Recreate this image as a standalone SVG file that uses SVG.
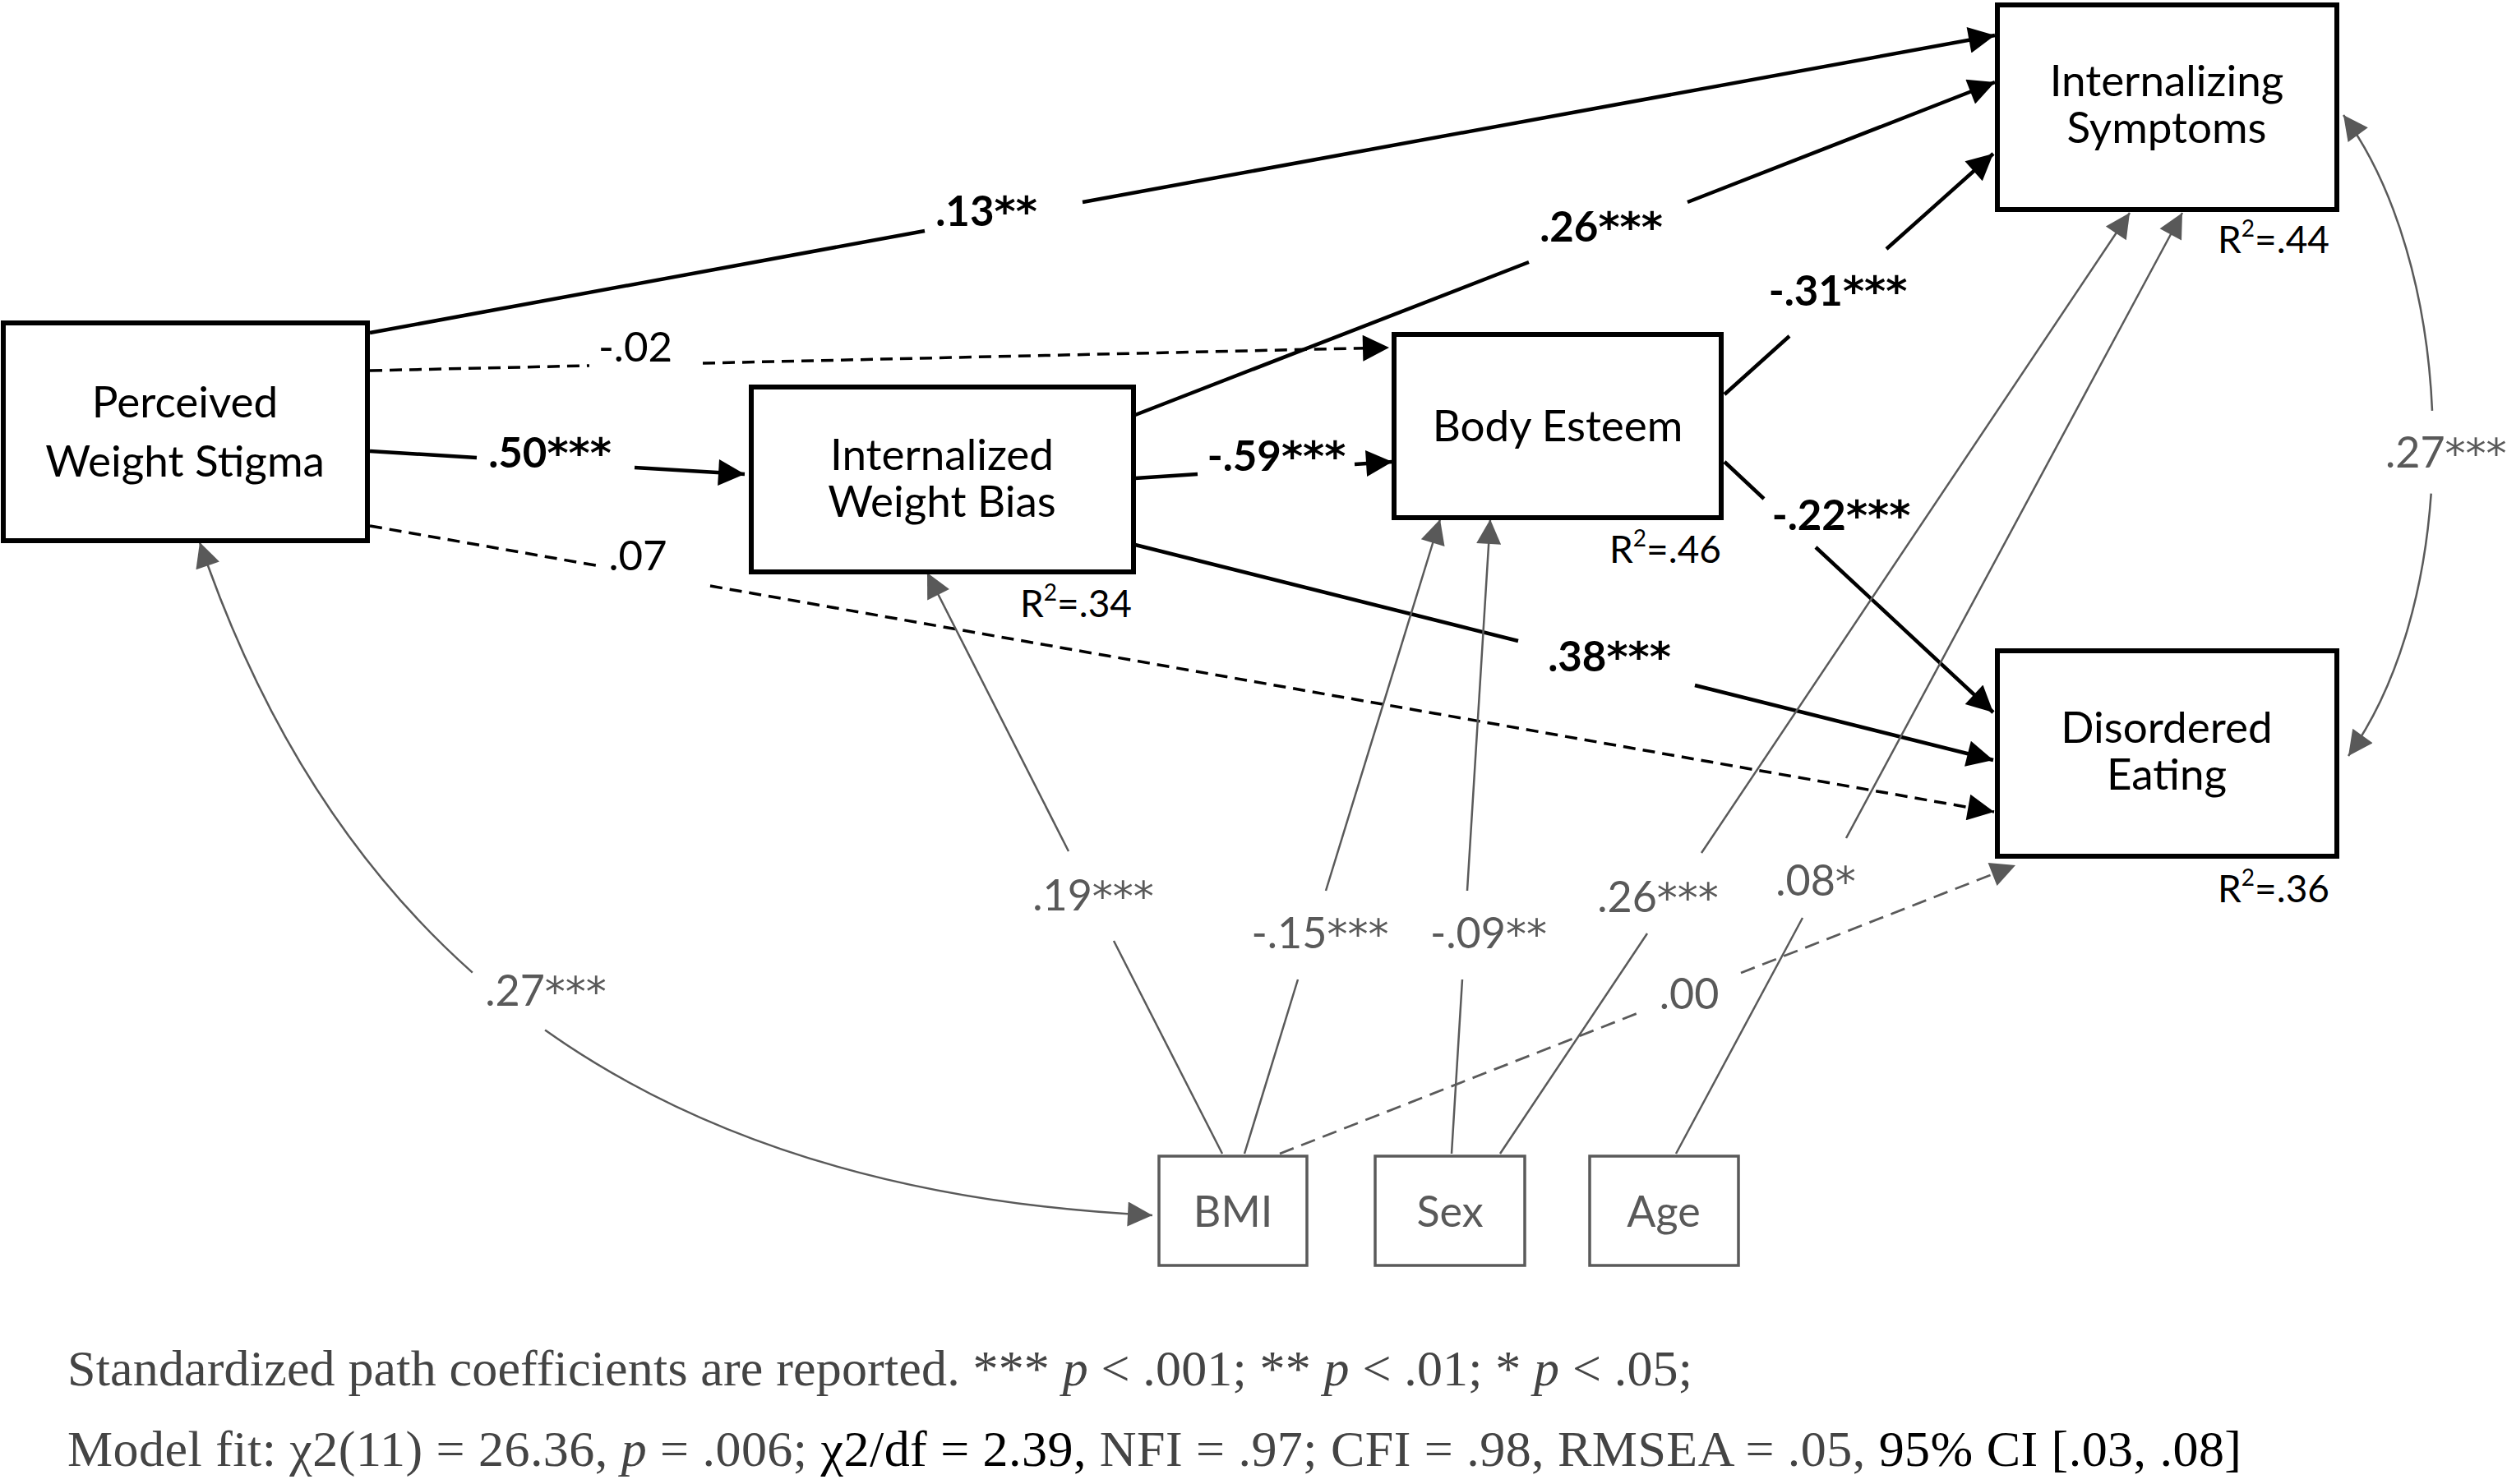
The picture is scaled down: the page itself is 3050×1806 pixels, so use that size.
<svg xmlns="http://www.w3.org/2000/svg" width="3050" height="1806" viewBox="0 0 3050 1806">
<style>
.box{fill:#fff;stroke:#000;stroke-width:6}
.gbox{fill:#fff;stroke:#5a5a5a;stroke-width:3.5}
.nt{font-family:Lato,"Open Sans","Liberation Sans",sans-serif;font-size:53px;fill:#000;text-anchor:middle}
.gt{font-family:Lato,"Open Sans","Liberation Sans",sans-serif;font-size:52px;fill:#595959;text-anchor:middle}
.bl{font-family:Lato,"Open Sans","Liberation Sans",sans-serif;font-size:51px;font-weight:bold;fill:#000;text-anchor:middle}
.rl{font-family:Lato,"Open Sans","Liberation Sans",sans-serif;font-size:51px;fill:#000;text-anchor:middle}
.r2{font-family:Lato,"Open Sans","Liberation Sans",sans-serif;font-size:46px;fill:#000;text-anchor:end}
.a{font-family:"DejaVu Sans","Liberation Sans",sans-serif;font-size:50px}
.fn{font-family:"Liberation Serif","Times New Roman",serif;font-size:62px;fill:#444}
.ks{fill:none;stroke:#000;stroke-width:4.5}
.kd{fill:none;stroke:#000;stroke-width:3.5;stroke-dasharray:15 9}
.gs{fill:none;stroke:#5a5a5a;stroke-width:2.5}
.gd{fill:none;stroke:#5a5a5a;stroke-width:2.8;stroke-dasharray:18 10}
</style>
<defs>
<marker id="ak" viewBox="0 0 10 10" refX="10" refY="5" markerWidth="36" markerHeight="32" markerUnits="userSpaceOnUse" orient="auto"><path d="M0,0 L10,5 L0,10 z" fill="#000"/></marker>
<marker id="ag" viewBox="0 0 10 10" refX="10" refY="5" markerWidth="36" markerHeight="30" markerUnits="userSpaceOnUse" orient="auto-start-reverse"><path d="M0,0 L10,5 L0,10 z" fill="#595959"/></marker>
</defs>

<g id="connectors">
<path class="ks" d="M450,405 L1125,281 M1317,246 L2427,43" marker-end="url(#ak)"/>
<path class="ks" d="M450,549 L580,557 M772,569 L906,577" marker-end="url(#ak)"/>
<path class="ks" d="M1381,505 L1860,319 M2053,246 L2427,100" marker-end="url(#ak)"/>
<path class="ks" d="M1381,582 L1457,577 M1648,565 L1694,562" marker-end="url(#ak)"/>
<path class="ks" d="M1381,663 L1847,780 M2062,834 L2425,925" marker-end="url(#ak)"/>
<path class="ks" d="M2098,480 L2177,409 M2295,303 L2425,187" marker-end="url(#ak)"/>
<path class="ks" d="M2098,562 L2146,607 M2209,666 L2425,867" marker-end="url(#ak)"/>
<path class="kd" d="M450,451 L717,445 M855,442 L1690,423" marker-end="url(#ak)"/>
<path class="kd" d="M450,640 L730,689 M864,713 L2426,988" marker-end="url(#ak)"/>
<path class="gs" d="M1487,1404 L1355,1145 M1300,1036 L1128,697" marker-end="url(#ag)"/>
<path class="gs" d="M1514,1404 L1579,1192 M1613,1084 L1752,632" marker-end="url(#ag)"/>
<path class="gs" d="M1766,1404 L1779,1192 M1785,1084 L1813,632" marker-end="url(#ag)"/>
<path class="gs" d="M1825,1404 L2004,1136 M2070,1038 L2591,259" marker-end="url(#ag)"/>
<path class="gs" d="M2039,1404 L2193,1117 M2246,1020 L2655,259" marker-end="url(#ag)"/>
<path class="gd" d="M1557,1404 L1995,1232 M2118,1184 L2452,1053" marker-end="url(#ag)"/>
<path class="gs" d="M243,660 C317.3,878.4 427.5,1052.7 574.8,1183.6" marker-start="url(#ag)"/>
<path class="gs" d="M663.1,1253.6 C855.5,1389.75 1101,1464.5 1402,1479" marker-end="url(#ag)"/>
<path class="gs" d="M2851,140 C2916.3,229.3 2953.1,362.8 2959,499.9" marker-start="url(#ag)"/>
<path class="gs" d="M2957.7,600.7 C2949.3,721.3 2916.3,837 2857,920" marker-end="url(#ag)"/>
</g>

<g id="labels">
<text class="bl" x="1200" y="275">.13<tspan class="a">**</tspan></text>
<text class="bl" x="1948" y="294">.26<tspan class="a">***</tspan></text>
<text class="bl" x="2236" y="372">-.31<tspan class="a">***</tspan></text>
<text class="bl" x="669" y="569">.50<tspan class="a">***</tspan></text>
<text class="bl" x="1553" y="573">-.59<tspan class="a">***</tspan></text>
<text class="bl" x="2240" y="645">-.22<tspan class="a">***</tspan></text>
<text class="bl" x="1958" y="817">.38<tspan class="a">***</tspan></text>
<text class="rl" x="773" y="440">-.02</text>
<text class="rl" x="776" y="694">.07</text>
<text class="gt" x="664" y="1224">.27<tspan class="a">***</tspan></text>
<text class="gt" x="1330" y="1108">.19<tspan class="a">***</tspan></text>
<text class="gt" x="1606" y="1154">-.15<tspan class="a">***</tspan></text>
<text class="gt" x="1811" y="1154">-.09<tspan class="a">**</tspan></text>
<text class="gt" x="2017" y="1110">.26<tspan class="a">***</tspan></text>
<text class="gt" x="2209" y="1090">.08<tspan class="a">*</tspan></text>
<text class="gt" x="2055" y="1228">.00</text>
<text class="gt" x="2902" y="569" style="text-anchor:start">.27<tspan class="a">***</tspan></text>
</g>

<g id="n-pws">
<rect class="box" x="4" y="393" width="443" height="265"/>
<text class="nt" x="225" y="508">Perceived</text>
<text class="nt" x="225" y="580">Weight Stigma</text>
</g>
<g id="n-iwb">
<rect class="box" x="914" y="471" width="465" height="225"/>
<text class="nt" x="1146" y="572">Internalized</text>
<text class="nt" x="1146" y="629">Weight Bias</text>
<text class="r2" x="1377" y="751">R<tspan font-size="28" dy="-20">2</tspan><tspan dy="20">=.34</tspan></text>
</g>
<g id="n-be">
<rect class="box" x="1696" y="407" width="398" height="223"/>
<text class="nt" x="1895" y="537">Body Esteem</text>
<text class="r2" x="2094" y="685">R<tspan font-size="28" dy="-20">2</tspan><tspan dy="20">=.46</tspan></text>
</g>
<g id="n-is">
<rect class="box" x="2430" y="6" width="413" height="249"/>
<text class="nt" x="2636" y="117">Internalizing</text>
<text class="nt" x="2636" y="174">Symptoms</text>
<text class="r2" x="2834" y="308">R<tspan font-size="28" dy="-20">2</tspan><tspan dy="20">=.44</tspan></text>
</g>
<g id="n-de">
<rect class="box" x="2430" y="792" width="413" height="250"/>
<text class="nt" x="2636" y="904">Disordered</text>
<text class="nt" x="2636" y="961">Eating</text>
<text class="r2" x="2834" y="1098">R<tspan font-size="28" dy="-20">2</tspan><tspan dy="20">=.36</tspan></text>
</g>
<g id="n-bmi">
<rect class="gbox" x="1410" y="1407" width="180" height="133"/>
<text class="gt" x="1500" y="1493">BMI</text>
</g>
<g id="n-sex">
<rect class="gbox" x="1673" y="1407" width="182" height="133"/>
<text class="gt" x="1764" y="1493">Sex</text>
</g>
<g id="n-age">
<rect class="gbox" x="1934" y="1407" width="181" height="133"/>
<text class="gt" x="2024" y="1493">Age</text>
</g>

<g id="footnote">
<text class="fn" x="82" y="1686" textLength="1977" lengthAdjust="spacing">Standardized path coefficients are reported. *** <tspan font-style="italic">p</tspan> &lt; .001; ** <tspan font-style="italic">p</tspan> &lt; .01; * <tspan font-style="italic">p</tspan> &lt; .05;</text>
<text class="fn" x="82" y="1784" textLength="2645" lengthAdjust="spacing">Model fit: χ2(11) = 26.36, <tspan font-style="italic">p</tspan> = .006; <tspan fill="#000">χ2/df = 2.39,</tspan> NFI = .97; CFI = .98, RMSEA = .05, <tspan fill="#000">95% CI [.03, .08]</tspan></text>
</g>
</svg>
